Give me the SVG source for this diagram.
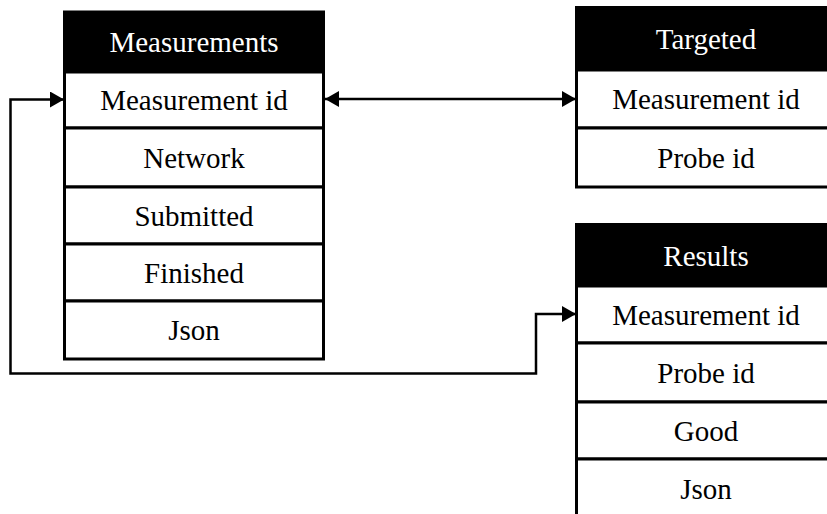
<svg xmlns="http://www.w3.org/2000/svg" width="827" height="514" viewBox="0 0 827 514">
  <style>
    .hdr { fill: #000; stroke: #000; stroke-width: 3; }
    .row { fill: #fff; stroke: #000; stroke-width: 3; }
    .ht { fill: #fff; font-family: "Liberation Serif", "Times New Roman", Times, serif; font-size: 29px; text-anchor: middle; }
    .rt { fill: #000; font-family: "Liberation Serif", "Times New Roman", Times, serif; font-size: 29px; text-anchor: middle; }
    .link { fill: none; stroke: #000; stroke-width: 2.5; }
  </style>
  <defs>
    <marker id="arrow" viewBox="0 0 14 16" refX="14" refY="8" markerWidth="14" markerHeight="16" markerUnits="userSpaceOnUse" orient="auto-start-reverse">
      <path d="M0,0 L14,8 L0,16 Z" fill="#000"/>
    </marker>
  </defs>

  <rect width="827" height="514" fill="#fff"/>

  <!-- Measurements table -->
  <g id="measurements">
    <rect class="hdr" x="64.5" y="12" width="259" height="60"/>
    <text class="ht" x="194" y="52">Measurements</text>
    <rect class="row" x="64.5" y="72" width="259" height="56"/>
    <text class="rt" x="194" y="110">Measurement id</text>
    <rect class="row" x="64.5" y="128" width="259" height="59"/>
    <text class="rt" x="194" y="167.5">Network</text>
    <rect class="row" x="64.5" y="187" width="259" height="57"/>
    <text class="rt" x="194" y="225.5">Submitted</text>
    <rect class="row" x="64.5" y="244" width="259" height="57"/>
    <text class="rt" x="194" y="282.5">Finished</text>
    <rect class="row" x="64.5" y="301" width="259" height="58"/>
    <text class="rt" x="194" y="340">Json</text>
  </g>

  <!-- Targeted table -->
  <g id="targeted">
    <rect class="hdr" x="576.5" y="7.5" width="259" height="62.5"/>
    <text class="ht" x="706" y="49">Targeted</text>
    <rect class="row" x="576.5" y="70" width="259" height="58"/>
    <text class="rt" x="706" y="109">Measurement id</text>
    <rect class="row" x="576.5" y="128" width="259" height="59"/>
    <text class="rt" x="706" y="167.5">Probe id</text>
  </g>

  <!-- Results table -->
  <g id="results">
    <rect class="hdr" x="576.5" y="224.5" width="259" height="61.5"/>
    <text class="ht" x="706" y="265.5">Results</text>
    <rect class="row" x="576.5" y="286" width="259" height="57"/>
    <text class="rt" x="706" y="324.5">Measurement id</text>
    <rect class="row" x="576.5" y="343" width="259" height="59"/>
    <text class="rt" x="706" y="382.5">Probe id</text>
    <rect class="row" x="576.5" y="402" width="259" height="57"/>
    <text class="rt" x="706" y="440.5">Good</text>
    <rect class="row" x="576.5" y="459" width="259" height="60"/>
    <text class="rt" x="706" y="498.5">Json</text>
  </g>

  <!-- Connectors -->
  <g id="connectors">
    <path class="link" d="M325,99 L576,99" marker-start="url(#arrow)" marker-end="url(#arrow)"/>
    <path class="link" d="M576,314 L536,314 L536,373.5 L10.5,373.5 L10.5,99.5 L64,99.5" marker-start="url(#arrow)" marker-end="url(#arrow)"/>
  </g>
</svg>
